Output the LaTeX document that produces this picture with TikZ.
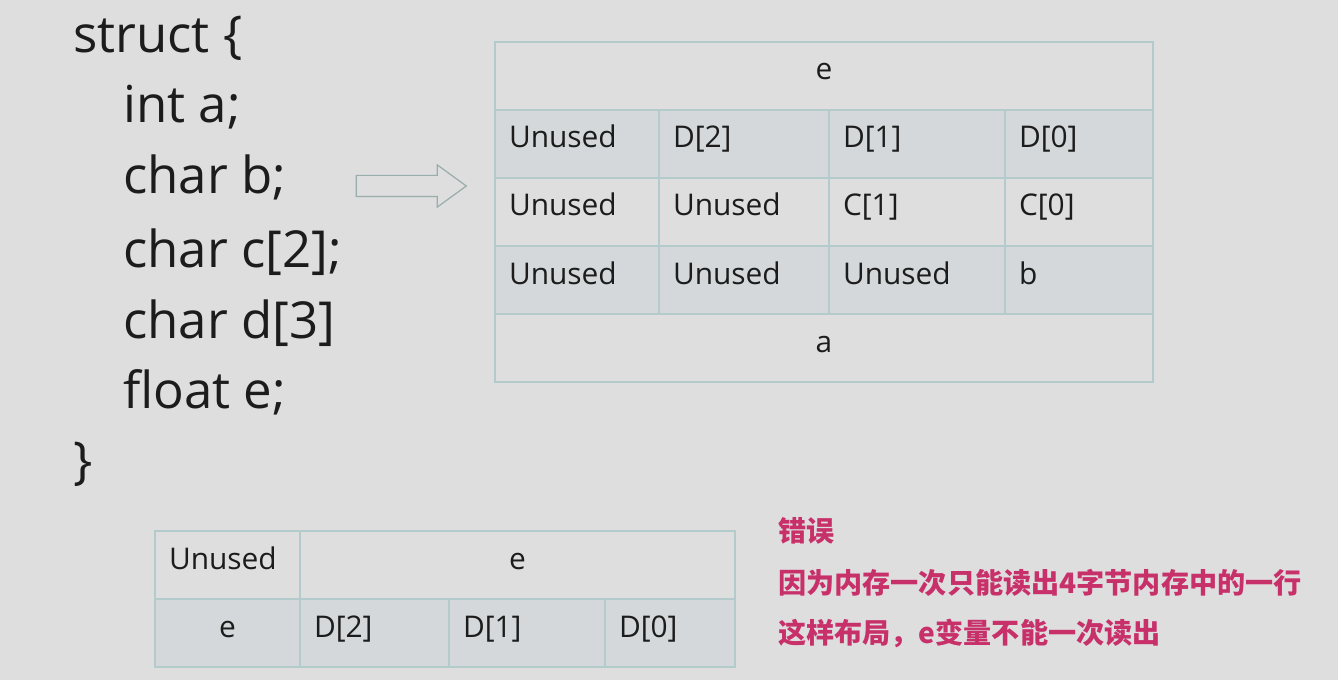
\documentclass[tikz,border=0pt]{standalone}
\usepackage{fontspec}
\setmainfont{Open Sans}
\newfontfamily\cjk{Noto Sans CJK SC}
\usepackage{tikz}
\usetikzlibrary{shapes.arrows,positioning}
\definecolor{slide}{RGB}{222,222,222}
\definecolor{rowband}{RGB}{212,216,218}
\definecolor{gridline}{RGB}{180,203,203}
\definecolor{ink}{RGB}{28,28,28}
\definecolor{warn}{RGB}{200,48,106}

\begin{document}
\begin{tikzpicture}[
  code/.style={anchor=base west, inner sep=0pt, text=ink,
               font=\fontsize{29}{34}\selectfont},
  cell/.style={rectangle, draw=gridline, line width=0.8pt, anchor=north west,
               inner xsep=0.28cm, inner ysep=0pt, outer sep=0pt,
               text height=0.76cm, text depth=0.60cm, text width=#1,
               align=left, text=ink, fill=slide,
               font=\fontsize{17}{20}\selectfont},
  mcell/.style={cell=#1, align=center},
  band/.style={fill=rowband},
  hollow/.style={single arrow, draw=gridline!85!black, line width=0.7pt,
               minimum height=2.2cm, inner sep=0.2cm,
               single arrow head extend=0.21cm, single arrow tip angle=72},
  warntext/.style={anchor=base west, inner sep=0pt, text=warn,
               font=\cjk\bfseries\fontsize{16}{20}\selectfont}
]
\fill[slide] (0,0) rectangle (26.76,-13.6);
\useasboundingbox (0,0) rectangle (26.76,-13.6);

% ── LEFT: struct declaration ─────────────
\node[code] (ln0) at (1.46,-1.06) {struct \{};
\node[code] (ln1) at (2.46,-2.46) {int a;};
\node[code] (ln2) at (2.46,-3.88) {char b;};
\node[code] (ln3) at (2.46,-5.34) {char c[2];};
\node[code] (ln4) at (2.46,-6.76) {char d[3]};
\node[code] (ln5) at (2.46,-8.16) {float e;};
\node[code] (ln6) at (1.46,-9.56) {\}};

\node[hollow] (maps) at (8.08,-3.72) {};

% ── RIGHT: padded memory layout ──────────
\node[mcell=12.60cm] (eTop) at (9.90,-0.84) {e};
\node[cell=2.72cm, band] (u11) at (eTop.south west) {Unused};
\node[cell=2.84cm, band] (d2)  at (u11.north east) {D[2]};
\node[cell=2.96cm, band] (d1)  at (d2.north east) {D[1]};
\node[cell=2.40cm, band] (d0)  at (d1.north east) {D[0]};
\node[cell=2.72cm] (u21) at (u11.south west) {Unused};
\node[cell=2.84cm] (u22) at (u21.north east) {Unused};
\node[cell=2.96cm] (c1)  at (u22.north east) {C[1]};
\node[cell=2.40cm] (c0)  at (c1.north east) {C[0]};
\node[cell=2.72cm, band] (u31) at (u21.south west) {Unused};
\node[cell=2.84cm, band] (u32) at (u31.north east) {Unused};
\node[cell=2.96cm, band] (u33) at (u32.north east) {Unused};
\node[cell=2.40cm, band] (bb)  at (u33.north east) {b};
\node[mcell=12.60cm] (aa) at (u31.south west) {a};

% ── BOTTOM: wrong layout ─────────────────
\node[cell=2.34cm] (wu) at (3.10,-10.62) {Unused};
\node[mcell=8.14cm] (we) at (wu.north east) {e};
\node[mcell=2.34cm, band] (we2) at (wu.south west) {e};
\node[cell=2.42cm, band] (wd2) at (we2.north east) {D[2]};
\node[cell=2.56cm, band] (wd1) at (wd2.north east) {D[1]};
\node[cell=2.04cm, band] (wd0) at (wd1.north east) {D[0]};

\node[warntext] (why0) at (15.56,-10.82) {错误};
\node[warntext] (why1) at (15.56,-11.86) {因为内存一次只能读出4字节内存中的一行};
\node[warntext] (why2) at (15.56,-12.86) {这样布局，e变量不能一次读出};
\end{tikzpicture}
\end{document}
